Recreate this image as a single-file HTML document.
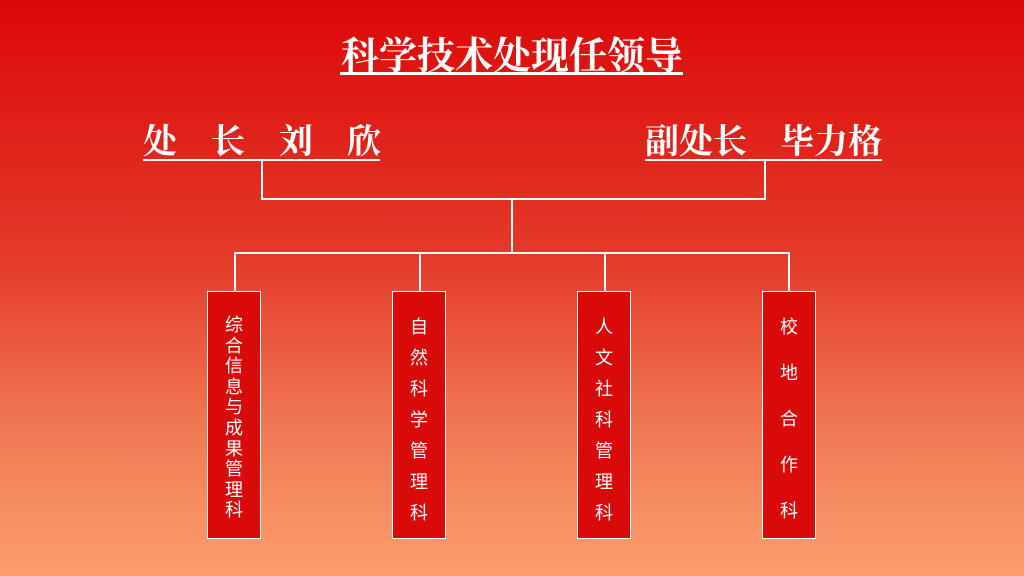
<!DOCTYPE html><html><head><meta charset="utf-8"><style>
body{margin:0}
#c{position:relative;width:1024px;height:576px;overflow:hidden;background:linear-gradient(#dc0808 0%,#e43a2a 45%,#f07a55 75%,#fc9e6e 100%);font-family:"Liberation Serif","Noto Serif CJK SC",serif;color:#fff}
.t{position:absolute;white-space:nowrap}
.l{position:absolute;background:#fff}
.b{position:absolute;top:291px;width:52px;height:246px;background:#d90a0a;border:1.5px solid #fff;box-sizing:content-box;font-family:"Liberation Sans","Noto Sans CJK SC",sans-serif;font-size:18px;display:flex;flex-direction:column;align-items:center}
</style></head><body><div id="c">
<div class="t" style="left:340px;top:25px;font-size:38px;font-weight:bold;width:344px;text-align:center">科学技术处现任领导</div>
<div class="l" style="left:340px;top:72px;width:343px;height:3px"></div>
<div class="t" style="left:143px;top:114px;font-size:34px;font-weight:bold;width:238px;display:flex;justify-content:space-between"><span>处</span><span>长</span><span>刘</span><span>欣</span></div>
<div class="l" style="left:143px;top:159px;width:237px;height:2px"></div>
<div class="t" style="left:645px;top:114px;font-size:34px;font-weight:bold">副处长</div>
<div class="t" style="left:780px;top:114px;font-size:34px;font-weight:bold">毕力格</div>
<div class="l" style="left:645px;top:159px;width:237px;height:2px"></div>
<div class="l" style="left:261px;top:160px;width:2px;height:40px"></div>
<div class="l" style="left:764px;top:160px;width:2px;height:40px"></div>
<div class="l" style="left:261px;top:198px;width:505px;height:2px"></div>
<div class="l" style="left:511px;top:198px;width:2px;height:56px"></div>
<div class="l" style="left:234px;top:252px;width:556px;height:2px"></div>
<div class="l" style="left:234px;top:252px;width:2px;height:40px"></div>
<div class="l" style="left:419px;top:252px;width:2px;height:40px"></div>
<div class="l" style="left:604px;top:252px;width:2px;height:40px"></div>
<div class="l" style="left:788px;top:252px;width:2px;height:40px"></div>
<div class="b" style="left:207px;padding-top:23px;line-height:20.6px;height:223px">综<br>合<br>信<br>息<br>与<br>成<br>果<br>管<br>理<br>科</div>
<div class="b" style="left:392px;padding-top:20px;line-height:31px;height:226px">自<br>然<br>科<br>学<br>管<br>理<br>科</div>
<div class="b" style="left:577px;padding-top:20px;line-height:31px;height:226px">人<br>文<br>社<br>科<br>管<br>理<br>科</div>
<div class="b" style="left:762px;padding-top:12px;line-height:46px;height:234px">校<br>地<br>合<br>作<br>科</div>
</div></body></html>
